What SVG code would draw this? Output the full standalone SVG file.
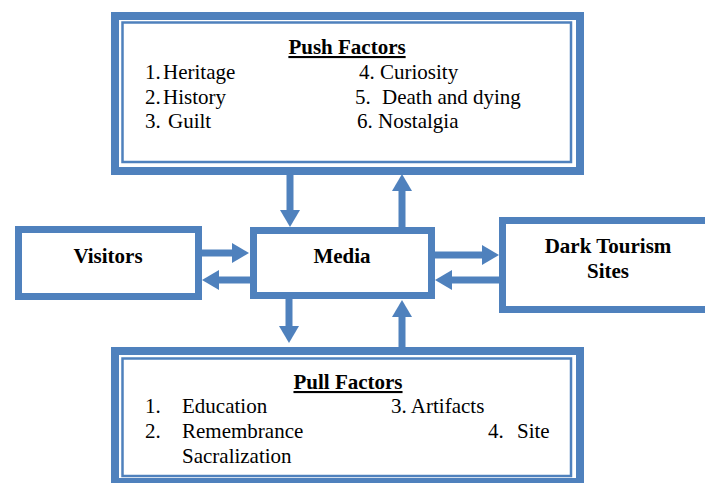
<svg xmlns="http://www.w3.org/2000/svg" width="705" height="483" viewBox="0 0 705 483">
<style>
.thick{fill:#fff;stroke:#4F81BD;stroke-width:8}
.thin{fill:none;stroke:#4F81BD;stroke-width:2.5}
.box{fill:#fff;stroke:#4F81BD;stroke-width:7}
.conn{stroke:#4F81BD;stroke-width:7;fill:none;marker-end:url(#ah)}
text{font-family:"Liberation Serif","Times New Roman",serif;fill:#000;font-size:21px}
.b{font-weight:bold}
.u{text-decoration:underline}
</style>
<defs>
<marker id="ah" markerUnits="userSpaceOnUse" markerWidth="18" markerHeight="20" refX="1" refY="10" orient="auto">
<path d="M0,0 L17,10 L0,20 z" fill="#4F81BD"/>
</marker>
</defs>
<g id="push">
<rect class="thick" x="115" y="16" width="465" height="155"/>
<rect class="thin" x="122.5" y="22.5" width="448.5" height="139.5"/>
<text class="b u" x="347" y="54" text-anchor="middle">Push Factors</text>
<text x="145" y="79">1.</text><text x="163" y="79">Heritage</text>
<text x="145" y="104">2.</text><text x="163" y="104">History</text>
<text x="145" y="128">3.</text><text x="168" y="128">Guilt</text>
<text x="359" y="79">4.</text><text x="380" y="79">Curiosity</text>
<text x="355" y="104">5.</text><text x="382" y="104">Death and dying</text>
<text x="357" y="128">6.</text><text x="378" y="128">Nostalgia</text>
</g>
<g id="visitors">
<rect class="box" x="18.5" y="229.5" width="180" height="67"/>
<text class="b" x="108" y="263" text-anchor="middle">Visitors</text>
</g>
<g id="media">
<rect class="box" x="253.5" y="230.5" width="178" height="65"/>
<text class="b" x="342" y="263" text-anchor="middle">Media</text>
</g>
<g id="dark">
<rect class="box" x="502.5" y="220.5" width="250" height="89"/>
<text class="b" x="608" y="253" text-anchor="middle">Dark Tourism</text>
<text class="b" x="608" y="278" text-anchor="middle">Sites</text>
</g>
<g id="pull">
<rect class="thick" x="115" y="351" width="465" height="131"/>
<rect class="thin" x="122.5" y="358.5" width="448.5" height="117.5"/>
<text class="b u" x="348" y="389" text-anchor="middle">Pull Factors</text>
<text x="145" y="413">1.</text><text x="182" y="413">Education</text>
<text x="391" y="413">3. Artifacts</text>
<text x="145" y="438">2.</text><text x="182" y="438">Remembrance</text>
<text x="488" y="438">4.</text><text x="517" y="438">Site</text>
<text x="182" y="463">Sacralization</text>
</g>
<g id="connectors">
<line class="conn" x1="290" y1="175" x2="290" y2="211"/>
<line class="conn" x1="402" y1="227" x2="402" y2="190"/>
<line class="conn" x1="289" y1="299" x2="289" y2="327"/>
<line class="conn" x1="402" y1="347" x2="402" y2="316"/>
<line class="conn" x1="202" y1="253" x2="233" y2="253"/>
<line class="conn" x1="250" y1="280" x2="218" y2="280"/>
<line class="conn" x1="435" y1="255" x2="483" y2="255"/>
<line class="conn" x1="499" y1="280" x2="451" y2="280"/>
</g>
</svg>
